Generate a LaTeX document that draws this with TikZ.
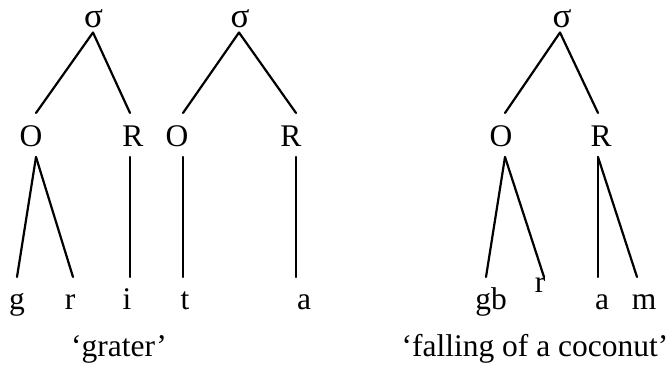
\documentclass[tikz,border=0pt]{standalone}
\usepackage{fontspec}
\setmainfont{Liberation Serif}
\begin{document}
\begin{tikzpicture}[x=1pt,y=-1pt,
  lbl/.style={font=\fontsize{31.5}{38}\selectfont, inner sep=0pt, outer sep=0pt, anchor=base},
  sylnode/.style={lbl, font=\fontsize{35}{40}\selectfont, text depth=5.5pt},
  midnode/.style={lbl, text height=33.5pt, text depth=10.5pt},
  segnode/.style={lbl, text height=32pt},
  raisednode/.style={lbl, text height=15pt},
  branch/.style={line width=2.2pt, line cap=round}]
\useasboundingbox (0,0) rectangle (669,367);

% syllable 1 of 'grater'
\node[sylnode] (s1) at (93.5,27) {σ};
\node[midnode] (o1) at (31,146.5) {O};
\node[midnode] (r1) at (133,146.5) {R};
\node[segnode] (g1) at (17,309) {g};
\node[segnode] (rr1) at (70,309) {r};
\node[segnode] (i1) at (127,309) {i};

% syllable 2 of 'grater'
\node[sylnode] (s2) at (240,27) {σ};
\node[midnode] (o2) at (177,146.5) {O};
\node[midnode] (r2) at (291,146.5) {R};
\node[segnode] (t2) at (185,309) {t};
\node[segnode] (a2) at (304,309) {a};

% 'falling of a coconut'
\node[sylnode] (s3) at (562,27) {σ};
\node[midnode] (o3) at (501,146.5) {O};
\node[midnode] (r3) at (601,146.5) {R};
\node[segnode] (gb3) at (491,309) {gb};
\node[raisednode] (rr3) at (540,292) {r};
\node[segnode] (a3) at (602,309) {a};
\node[segnode] (m3) at (644,309) {m};

% glosses
\node[lbl] (gl1) at (119,356) {‘grater’};
\node[lbl] (gl2) at (535,356) {‘falling of a coconut’};

% branches
\draw[branch] ([xshift=-0.5pt]s1.south) -- ([xshift=5pt]o1.north);
\draw[branch] ([xshift=-0.5pt]s1.south) -- ([xshift=-3pt]r1.north);
\draw[branch] ([xshift=5pt]o1.south) -- (g1.north);
\draw[branch] ([xshift=5pt]o1.south) -- ([xshift=3pt]rr1.north);
\draw[branch] ([xshift=-3pt]r1.south) -- ([xshift=3pt]i1.north);

\draw[branch] ([xshift=-1pt]s2.south) -- ([xshift=6pt]o2.north);
\draw[branch] ([xshift=-1pt]s2.south) -- ([xshift=5pt]r2.north);
\draw[branch] ([xshift=6pt]o2.south) -- ([xshift=-2pt]t2.north);
\draw[branch] ([xshift=5pt]r2.south) -- ([xshift=-8pt]a2.north);

\draw[branch] ([xshift=-2pt]s3.south) -- ([xshift=4pt]o3.north);
\draw[branch] ([xshift=-2pt]s3.south) -- ([xshift=-3pt]r3.north);
\draw[branch] ([xshift=4pt]o3.south) -- ([xshift=-5pt]gb3.north);
\draw[branch] ([xshift=4pt]o3.south) -- ([xshift=4pt]rr3.north);
\draw[branch] ([xshift=-3pt]r3.south) -- ([xshift=-4pt]a3.north);
\draw[branch] ([xshift=-3pt]r3.south) -- ([xshift=-7pt]m3.north);
\end{tikzpicture}
\end{document}
